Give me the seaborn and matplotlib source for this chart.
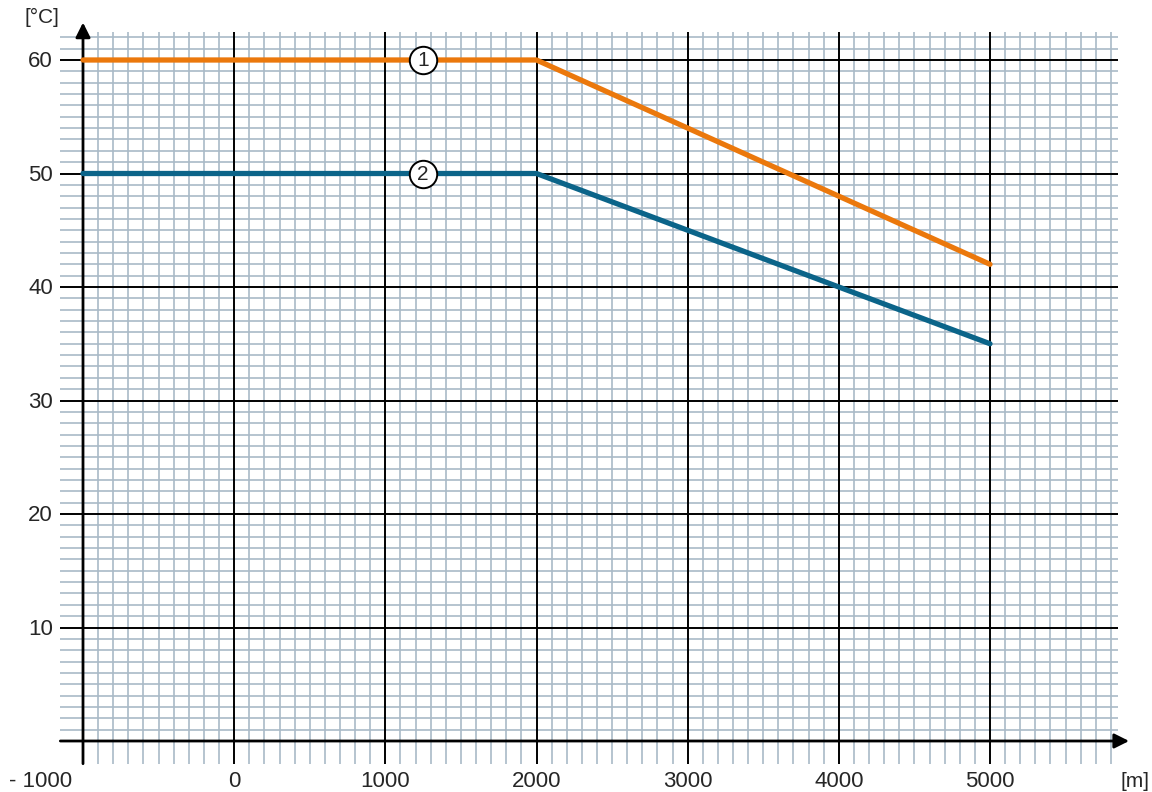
import pandas as pd
import matplotlib.pyplot as plt
import seaborn as sns

# Derating curves: max ambient temperature vs installation altitude
altitude = [-1000, 2000, 5000]
temp_curve1 = [60, 60, 42]
temp_curve2 = [50, 50, 35]
curve_ids = ['1', '2']
curve_colors = ['#EB780C', '#0B6489']
marker_x = 1250

x_ticks = [-1000, 0, 1000, 2000, 3000, 4000, 5000]
x_labels = ['- 1000', '0', '1000', '2000', '3000', '4000', '5000']
y_ticks = [10, 20, 30, 40, 50, 60]

df = pd.DataFrame({
    'altitude': altitude * 2,
    'temp': temp_curve1 + temp_curve2,
    'curve': [curve_ids[0]] * 3 + [curve_ids[1]] * 3,
})

sns.set_style('white')
plt.rcParams['font.family'] = ['Liberation Sans', 'DejaVu Sans']

W, H = 1152, 792
fig = plt.figure(figsize=(W / 100, H / 100), dpi=100)

# pixel mapping
px_per_x = 907 / 6000
px_per_y = 681 / 60
xlim = (-1150, 5950)
ylim = (-4.5, 64)
left = 83 + (xlim[0] + 1000) * px_per_x
right = 990 + (xlim[1] - 5000) * px_per_x
top = 741 - ylim[1] * px_per_y
bottom = 741 - ylim[0] * px_per_y
ax = fig.add_axes([left / W, 1 - bottom / H, (right - left) / W, (bottom - top) / H])
ax.set_xlim(xlim)
ax.set_ylim(ylim)
ax.axis('off')

minor_c = '#A9BAC7'
# minor grid
vx = [v for v in range(-900, 5801, 100) if v % 1000 != 0]
ax.vlines(vx, -2, 62.5, colors=minor_c, lw=1.2, zorder=1)
hy = [v for v in range(1, 63) if v % 10 != 0]
ax.hlines(hy, -1150, 5850, colors=minor_c, lw=1.2, zorder=1)
# major grid
ax.vlines(x_ticks[1:], -2, 62.5, colors='black', lw=1.4, zorder=2)
ax.hlines(y_ticks, -1150, 5850, colors='black', lw=1.4, zorder=2)

# axes with arrows
ax.annotate('', xy=(5920, 0), xytext=(-1150, 0),
            arrowprops=dict(arrowstyle='-|>', color='black', lw=2.0, mutation_scale=22,
                            shrinkA=0, shrinkB=0), zorder=3)
ax.annotate('', xy=(-1000, 63.3), xytext=(-1000, -2),
            arrowprops=dict(arrowstyle='-|>', color='black', lw=2.0, mutation_scale=22,
                            shrinkA=0, shrinkB=0), zorder=3)

sns.lineplot(data=df, x='altitude', y='temp', hue='curve', palette=curve_colors,
             linewidth=3.8, legend=False, ax=ax, zorder=4)
for cid, ys in zip(curve_ids, [temp_curve1, temp_curve2]):
    ax.scatter([marker_x], [ys[0]], s=390, facecolor='white', edgecolor='black',
               linewidth=1.4, zorder=5)
    ax.text(marker_x, ys[0] - 0.05, cid, ha='center', va='center', fontsize=15, zorder=6)

# tick labels
fs = 16
for v in y_ticks:
    ax.text(-1198, v - 0.62, str(v), ha='right', va='baseline', fontsize=fs)
for v, lab in zip(x_ticks, x_labels):
    if v == -1000:
        ax.text(-1073, -4.05, lab, ha='right', va='baseline', fontsize=fs)
    else:
        ax.text(v, -4.05, lab, ha='center', va='baseline', fontsize=fs)
fig.text(1121 / W, 1 - 787 / H, '[m]', ha='left', va='baseline', fontsize=15)
fig.text(25 / W, 1 - 23 / H, '[°C]', ha='left', va='baseline', fontsize=15)

fig.savefig('out.png', dpi=100)
